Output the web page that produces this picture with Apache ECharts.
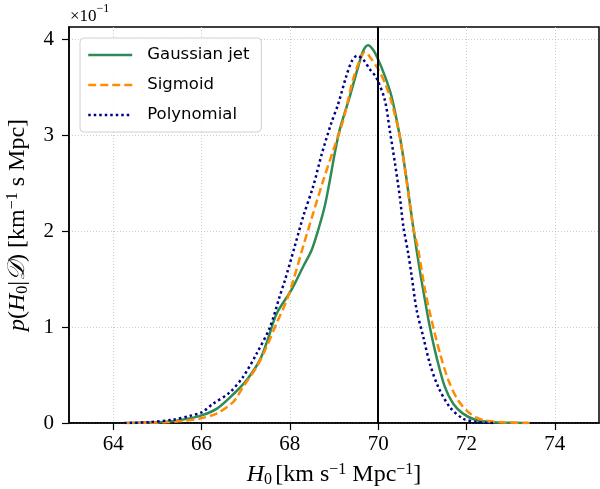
<!DOCTYPE html>
<html>
<head>
<meta charset="utf-8">
<script src="https://cdn.jsdelivr.net/npm/echarts@6/dist/echarts.min.js"></script>
<style>
html,body{margin:0;padding:0;background:#fff;}
#chart{width:600px;height:489px;}
</style>
</head>
<body>
<div id="chart"></div>
<script>
// H0 values (km/s/Mpc) and posterior density (in units of 1e-1)
var gaussX = [64.3, 64.8, 65.2, 65.6, 66.0, 66.35, 66.72, 67.02, 67.32, 67.5, 67.7, 68.04, 68.3, 68.49, 68.64, 68.79, 68.91, 69.02, 69.13, 69.36, 69.55, 69.66, 69.77, 69.89, 70.0, 70.15, 70.3, 70.49, 70.64, 70.79, 70.94, 71.06, 71.17, 71.32, 71.51, 71.7, 71.92, 72.23, 72.6, 73.0, 73.4];
var gaussY = [0, 0.004, 0.012, 0.038, 0.08, 0.15, 0.30, 0.446, 0.655, 0.87, 1.14, 1.39, 1.63, 1.80, 2.01, 2.26, 2.54, 2.82, 3.06, 3.41, 3.72, 3.88, 3.94, 3.89, 3.79, 3.62, 3.41, 2.99, 2.55, 2.05, 1.60, 1.28, 1.00, 0.69, 0.376, 0.20, 0.098, 0.028, 0.008, 0.002, 0];

var sigX = [64.3, 64.8, 65.2, 65.6, 65.96, 66.34, 66.72, 66.94, 67.25, 67.47, 67.7, 67.93, 68.08, 68.3, 68.53, 68.75, 68.98, 69.21, 69.43, 69.59, 69.70, 69.81, 70.0, 70.15, 70.3, 70.49, 70.64, 70.79, 70.91, 71.06, 71.21, 71.4, 71.59, 71.81, 72.08, 72.38, 72.8, 73.43];
var sigY = [0, 0.003, 0.008, 0.022, 0.046, 0.098, 0.22, 0.376, 0.585, 0.79, 1.04, 1.28, 1.49, 1.84, 2.19, 2.52, 2.84, 3.16, 3.58, 3.79, 3.87, 3.82, 3.69, 3.55, 3.35, 2.99, 2.54, 2.05, 1.80, 1.39, 1.07, 0.725, 0.446, 0.237, 0.098, 0.03, 0.008, 0];

var polyX = [64.25, 64.8, 65.36, 65.74, 66.0, 66.26, 66.64, 66.94, 67.25, 67.55, 67.77, 67.89, 68.11, 68.3, 68.53, 68.72, 68.94, 69.09, 69.28, 69.40, 69.52, 69.66, 69.81, 69.96, 70.15, 70.26, 70.38, 70.49, 70.57, 70.68, 70.76, 70.87, 71.02, 71.17, 71.36, 71.62, 71.92, 72.23, 72.6];
var polyY = [0, 0.008, 0.035, 0.075, 0.11, 0.20, 0.32, 0.48, 0.725, 1.00, 1.32, 1.49, 1.84, 2.15, 2.47, 2.80, 3.13, 3.32, 3.62, 3.77, 3.83, 3.79, 3.69, 3.60, 3.37, 3.06, 2.71, 2.36, 2.05, 1.77, 1.53, 1.18, 0.90, 0.62, 0.376, 0.167, 0.046, 0.01, 0];

var seriesNames = ['Gaussian jet', 'Sigmoid', 'Polynomial'];
var xTicks = [64, 66, 68, 70, 72, 74];
var yTicks = [0, 1, 2, 3, 4];
var xRange = [63, 75];
var yRange = [0, 4.13];
var truthH0 = 70;

function pairs(xs, ys) { return xs.map(function (x, i) { return [x, ys[i]]; }); }

var serif = '"Liberation Serif", "DejaVu Serif", serif';
var chart = echarts.init(document.getElementById('chart'), null, {renderer: 'canvas'});

var nameRich = {
  i: {fontFamily: serif, fontStyle: 'italic', fontSize: 24, color: '#000', lineHeight: 30, verticalAlign: 'middle'},
  r: {fontFamily: serif, fontSize: 24, color: '#000', lineHeight: 30, verticalAlign: 'middle'},
  sub: {fontFamily: serif, fontSize: 16, color: '#000', lineHeight: 30, verticalAlign: 'bottom', padding: [0, 0, 2, 0]},
  sup: {fontFamily: serif, fontSize: 16, color: '#000', lineHeight: 30, verticalAlign: 'top', padding: [2, 0, 0, 0]}
};

var option = {
  animation: false,
  backgroundColor: '#fff',
  grid: {left: 69, right: 1, top: 27, bottom: 66, outerBoundsMode: 'none', containLabel: false,
         show: true, borderColor: '#000', borderWidth: 1.5, backgroundColor: 'transparent'},
  legend: {
    orient: 'vertical', left: 80, top: 38,
    padding: [7, 12, 7, 7], itemGap: 10, itemWidth: 44, itemHeight: 20,
    backgroundColor: 'rgba(255,255,255,0.85)', borderColor: '#d0d0d0', borderWidth: 1, borderRadius: 4,
    itemStyle: {opacity: 0},
    lineStyle: {width: 2.5},
    textStyle: {fontFamily: '"DejaVu Sans", sans-serif', fontSize: 16.5, color: '#000', padding: [0, 0, 0, 10], lineHeight: 20},
    data: seriesNames
  },
  graphic: [{
    type: 'text', left: 70, top: 3,
    style: {
      text: '{a|\u00d710}{s|\u22121}',
      rich: {
        a: {fontFamily: serif, fontSize: 17, fill: '#000', lineHeight: 22, verticalAlign: 'bottom'},
        s: {fontFamily: serif, fontSize: 12, fill: '#000', lineHeight: 22, verticalAlign: 'top'}
      }
    }
  }],
  xAxis: {
    type: 'value', min: xRange[0], max: xRange[1],
    axisLine: {show: true, onZero: false, lineStyle: {color: '#000', width: 1.5}},
    axisTick: {show: true, length: 7, customValues: xTicks, lineStyle: {color: '#000', width: 1.2}},
    axisLabel: {customValues: xTicks, fontFamily: serif, fontSize: 21, color: '#000', margin: 11},
    splitLine: {show: true, lineStyle: {color: '#c0c0c0', type: [1, 2], width: 0.8}},
    name: '{i|H}{sub|0} {r|[km s}{sup|\u22121}{r| Mpc}{sup|\u22121}{r|]}',
    nameLocation: 'middle', nameGap: 37,
    nameTextStyle: {rich: nameRich}
  },
  yAxis: {
    type: 'value', min: yRange[0], max: yRange[1],
    axisLine: {show: true, onZero: false, lineStyle: {color: '#000', width: 1.5}},
    axisTick: {show: true, length: 7, customValues: yTicks, lineStyle: {color: '#000', width: 1.2}},
    axisLabel: {customValues: yTicks, fontFamily: serif, fontSize: 21, color: '#000', margin: 15},
    splitLine: {show: true, lineStyle: {color: '#c0c0c0', type: [1, 2], width: 0.8}},
    name: '{i|p}{r|(}{i|H}{sub|0}{r||}{i|\ud835\udc9f}{r|) [km}{sup|\u22121}{r| s Mpc]}',
    nameLocation: 'middle', nameGap: 28, nameRotate: 90,
    nameTextStyle: {rich: nameRich}
  },
  series: [
    {
      name: seriesNames[0], type: 'line', data: pairs(gaussX, gaussY),
      smooth: 0.3, showSymbol: false, symbol: 'none',
      lineStyle: {color: '#2e8b57', width: 2.5}, itemStyle: {color: '#2e8b57'}, z: 3,
      markLine: {
        silent: true, symbol: ['none', 'none'], label: {show: false},
        lineStyle: {color: '#000', width: 2, type: 'solid'},
        data: [{xAxis: truthH0}]
      }
    },
    {
      name: seriesNames[1], type: 'line', data: pairs(sigX, sigY),
      smooth: 0.3, showSymbol: false, symbol: 'none',
      lineStyle: {color: '#ff8c00', width: 2.5, type: [8, 4]}, itemStyle: {color: '#ff8c00'}, z: 4
    },
    {
      name: seriesNames[2], type: 'line', data: pairs(polyX, polyY),
      smooth: 0.3, showSymbol: false, symbol: 'none',
      lineStyle: {color: '#00008b', width: 2.5, type: [2.5, 3]}, itemStyle: {color: '#00008b'}, z: 5
    }
  ]
};
chart.setOption(option);
</script>
</body>
</html>
